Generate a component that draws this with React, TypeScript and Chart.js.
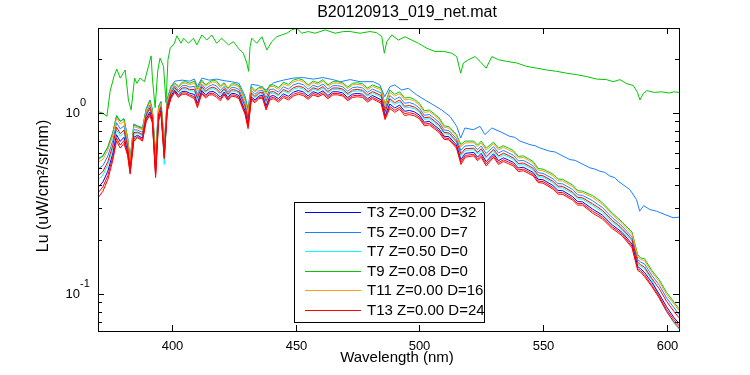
import React, { useEffect, useRef } from "react";
import { Chart, registerables } from "chart.js";

Chart.register(...registerables);

// ---------- DATA ----------
const chartTitle = "B20120913_019_net.mat";
const xAxisTitle = "Wavelength (nm)";
const yAxisTitle = "Lu (uW/cm\u00B2/sr/nm)";

const xTicks = [400, 450, 500, 550, 600];
const yMajorTicks = [0.1, 1];
const yMajorExponents = ["-1", "0"];
const yMinorTicks = [0.07, 0.08, 0.09, 0.2, 0.3, 0.4, 0.5, 0.6, 0.7, 0.8, 0.9, 2];

const wavelengths = [
  370, 372, 374, 376, 377.5, 379, 380.5, 382, 383, 384.5,
  386, 388, 389.5, 391, 392, 393.3, 394.5, 395.5, 396.8, 398,
  399.5, 401, 404, 407, 409, 410.2, 412, 415, 418, 421,
  424, 427, 429.5, 430.7, 432, 435, 438, 441, 445, 449,
  453, 457, 461, 465, 469, 473, 477, 481, 484.5, 486.1,
  488, 492, 496, 500, 504, 508, 512, 515, 516.8, 518.5,
  522, 525, 527, 530, 534, 538, 542, 546, 550, 554,
  558, 562, 566, 570, 574, 578, 582, 586, 588.3, 589.5,
  591, 594, 597, 600, 603, 605,
];
// extra wavelengths read in between (small absorption lines)
const detailNm = [
  402.5, 405.5, 413.5, 416.5, 419.5, 422.5, 425.5, 433.5, 436.5, 439.5,
  443, 447, 451, 455, 459, 463, 467, 471, 475, 479,
  490, 494, 498, 502, 506, 510, 523.5, 532, 536, 540,
  544, 548, 556, 564, 572, 580,
];

const t9Green = [
  0.56, 0.58, 0.65, 0.78, 0.97, 0.90, 0.93, 0.72, 0.55, 0.86,
  0.84, 0.82, 1.05, 1.17, 1.04, 0.57, 1.08, 1.15, 0.66, 1.18,
  1.38, 1.47, 1.48, 1.46, 1.50, 1.36, 1.52, 1.48, 1.50, 1.47,
  1.45, 1.42, 1.20, 1.02, 1.40, 1.38, 1.30, 1.43, 1.48, 1.52,
  1.52, 1.50, 1.53, 1.49, 1.47, 1.46, 1.45, 1.43, 1.37, 1.12,
  1.34, 1.31, 1.22, 1.13, 1.04, 0.94, 0.84, 0.76, 0.67, 0.70,
  0.70, 0.70, 0.64, 0.69, 0.66, 0.62, 0.58, 0.54, 0.49, 0.46,
  0.43, 0.40, 0.37, 0.35, 0.32, 0.28, 0.25, 0.22, 0.165, 0.158,
  0.157, 0.135, 0.12, 0.102, 0.09, 0.083,
];
const t9GreenDetail = [
  1.40, 1.49, 1.43, 1.52, 1.41, 1.37, 1.45, 1.33, 1.40, 1.43,
  1.38, 1.44, 1.55, 1.43, 1.47, 1.43, 1.49, 1.39, 1.47, 1.37,
  1.27, 1.21, 1.19, 1.03, 0.99, 0.85, 0.665, 0.64, 0.64, 0.576,
  0.56, 0.494, 0.432, 0.373, 0.335, 0.265,
];

const t11Orange = [
  0.534, 0.555, 0.624, 0.752, 0.938, 0.869, 0.90, 0.703, 0.539, 0.841,
  0.827, 0.806, 1.032, 1.146, 1.021, 0.554, 1.058, 1.132, 0.648, 1.161,
  1.358, 1.45, 1.455, 1.434, 1.464, 1.325, 1.491, 1.454, 1.466, 1.445,
  1.425, 1.394, 1.174, 0.996, 1.374, 1.358, 1.269, 1.402, 1.449, 1.486,
  1.488, 1.471, 1.499, 1.462, 1.442, 1.431, 1.422, 1.402, 1.341, 1.096,
  1.306, 1.279, 1.191, 1.106, 1.018, 0.921, 0.824, 0.746, 0.652, 0.684,
  0.686, 0.684, 0.624, 0.676, 0.646, 0.607, 0.568, 0.529, 0.48, 0.45,
  0.421, 0.392, 0.363, 0.342, 0.313, 0.274, 0.245, 0.215, 0.161, 0.155,
  0.153, 0.132, 0.117, 0.099, 0.088, 0.081,
];
const t11OrangeDetail = [
  1.378, 1.464, 1.404, 1.489, 1.381, 1.347, 1.424, 1.307, 1.377, 1.40,
  1.352, 1.409, 1.516, 1.401, 1.441, 1.402, 1.462, 1.364, 1.441, 1.344,
  1.239, 1.181, 1.163, 1.008, 0.97, 0.834, 0.651, 0.626, 0.626, 0.564,
  0.549, 0.484, 0.423, 0.365, 0.327, 0.26,
];

const t5Azure = [
  0.49, 0.513, 0.58, 0.706, 0.884, 0.817, 0.85, 0.675, 0.521, 0.809,
  0.805, 0.782, 1.002, 1.106, 0.989, 0.528, 1.022, 1.102, 0.628, 1.129,
  1.322, 1.416, 1.413, 1.39, 1.404, 1.267, 1.443, 1.41, 1.41, 1.403,
  1.383, 1.35, 1.13, 0.956, 1.33, 1.322, 1.217, 1.356, 1.397, 1.43,
  1.434, 1.423, 1.447, 1.416, 1.396, 1.383, 1.376, 1.356, 1.293, 1.056,
  1.25, 1.227, 1.143, 1.066, 0.982, 0.889, 0.798, 0.722, 0.622, 0.658,
  0.662, 0.658, 0.598, 0.652, 0.622, 0.585, 0.548, 0.511, 0.464, 0.434,
  0.406, 0.378, 0.351, 0.328, 0.301, 0.264, 0.237, 0.207, 0.155, 0.15,
  0.147, 0.127, 0.112, 0.095, 0.084, 0.077,
];
const t5AzureDetail = [
  1.342, 1.42, 1.36, 1.437, 1.333, 1.308, 1.38, 1.269, 1.339, 1.35,
  1.306, 1.357, 1.46, 1.353, 1.393, 1.356, 1.416, 1.32, 1.393, 1.30,
  1.187, 1.133, 1.118, 0.972, 0.936, 0.807, 0.627, 0.602, 0.603, 0.544,
  0.53, 0.468, 0.408, 0.353, 0.314, 0.251,
];

const t13Red = [
  0.45, 0.475, 0.54, 0.665, 0.835, 0.77, 0.805, 0.65, 0.505, 0.78,
  0.785, 0.76, 0.975, 1.07, 0.96, 0.505, 0.99, 1.075, 0.61, 1.10,
  1.29, 1.385, 1.375, 1.35, 1.35, 1.215, 1.40, 1.37, 1.36, 1.365,
  1.345, 1.31, 1.09, 0.92, 1.29, 1.29, 1.17, 1.315, 1.35, 1.38,
  1.385, 1.38, 1.40, 1.375, 1.355, 1.34, 1.335, 1.315, 1.25, 1.02,
  1.20, 1.18, 1.10, 1.03, 0.95, 0.86, 0.775, 0.70, 0.595, 0.635,
  0.64, 0.635, 0.575, 0.63, 0.60, 0.565, 0.53, 0.495, 0.45, 0.42,
  0.393, 0.365, 0.34, 0.315, 0.29, 0.255, 0.23, 0.20, 0.15, 0.145,
  0.141, 0.122, 0.107, 0.091, 0.08, 0.074,
];
const t13RedDetail = [
  1.31, 1.38, 1.32, 1.39, 1.29, 1.273, 1.34, 1.235, 1.305, 1.305,
  1.265, 1.31, 1.41, 1.31, 1.35, 1.315, 1.375, 1.28, 1.35, 1.26,
  1.14, 1.09, 1.078, 0.94, 0.905, 0.783, 0.605, 0.58, 0.583, 0.526,
  0.513, 0.454, 0.395, 0.342, 0.303, 0.243,
];

const t7Cyan = [
  0.428, 0.454, 0.518, 0.642, 0.808, 0.744, 0.78, 0.636, 0.496, 0.764,
  0.774, 0.748, 0.96, 1.05, 0.944, 0.492, 0.972, 1.06, 0.52, 1.084,
  1.272, 1.368, 1.354, 1.328, 1.32, 1.186, 1.376, 1.348, 1.332, 1.344,
  1.324, 1.288, 1.068, 0.90, 1.268, 1.272, 1.144, 1.292, 1.324, 1.352,
  1.358, 1.356, 1.374, 1.352, 1.332, 1.316, 1.312, 1.292, 1.226, 1.0,
  1.172, 1.154, 1.076, 1.01, 0.932, 0.844, 0.762, 0.688, 0.58, 0.622,
  0.628, 0.622, 0.562, 0.618, 0.588, 0.554, 0.52, 0.486, 0.442, 0.412,
  0.385, 0.358, 0.334, 0.308, 0.284, 0.25, 0.226, 0.196, 0.147, 0.142,
  0.138, 0.12, 0.097, 0.08, 0.069, 0.064,
];
const t7CyanDetail = [
  1.292, 1.358, 1.298, 1.364, 1.266, 1.253, 1.318, 1.216, 1.286, 1.28,
  1.242, 1.284, 1.382, 1.286, 1.326, 1.292, 1.352, 1.258, 1.326, 1.238,
  1.114, 1.066, 1.055, 0.922, 0.888, 0.769, 0.593, 0.568, 0.571, 0.515,
  0.503, 0.445, 0.387, 0.335, 0.296, 0.238,
];

const t3Blue = [
  0.388, 0.416, 0.478, 0.60, 0.759, 0.697, 0.735, 0.611, 0.48, 0.735,
  0.754, 0.726, 0.933, 1.014, 0.915, 0.469, 0.94, 1.033, 0.582, 1.055,
  1.24, 1.337, 1.316, 1.288, 1.266, 1.134, 1.333, 1.308, 1.282, 1.306,
  1.286, 1.248, 1.028, 0.864, 1.228, 1.24, 1.097, 1.251, 1.277, 1.302,
  1.309, 1.313, 1.327, 1.311, 1.291, 1.273, 1.271, 1.251, 1.183, 0.964,
  1.122, 1.107, 1.033, 0.974, 0.90, 0.815, 0.739, 0.666, 0.553, 0.599,
  0.606, 0.599, 0.539, 0.596, 0.566, 0.534, 0.502, 0.47, 0.428, 0.398,
  0.372, 0.345, 0.323, 0.295, 0.273, 0.241, 0.219, 0.189, 0.142, 0.138,
  0.132, 0.116, 0.10, 0.085, 0.074, 0.069,
];
const t3BlueDetail = [
  1.26, 1.318, 1.258, 1.317, 1.223, 1.218, 1.278, 1.182, 1.252, 1.235,
  1.201, 1.237, 1.332, 1.243, 1.283, 1.251, 1.311, 1.218, 1.283, 1.198,
  1.067, 1.023, 1.015, 0.89, 0.857, 0.745, 0.571, 0.546, 0.55, 0.497,
  0.486, 0.431, 0.374, 0.324, 0.284, 0.23,
];

const t15Red = [
  0.362, 0.391, 0.452, 0.573, 0.727, 0.666, 0.705, 0.594, 0.469, 0.716,
  0.741, 0.712, 0.915, 0.99, 0.896, 0.453, 0.918, 1.015, 0.57, 1.036,
  1.218, 1.317, 1.291, 1.262, 1.23, 1.099, 1.304, 1.282, 1.248, 1.281,
  1.261, 1.222, 1.002, 0.84, 1.202, 1.218, 1.066, 1.223, 1.246, 1.268,
  1.277, 1.284, 1.296, 1.283, 1.263, 1.244, 1.243, 1.223, 1.154, 0.94,
  1.088, 1.076, 1.004, 0.95, 0.878, 0.796, 0.723, 0.652, 0.535, 0.583,
  0.592, 0.583, 0.523, 0.582, 0.552, 0.521, 0.49, 0.459, 0.418, 0.388,
  0.363, 0.337, 0.316, 0.287, 0.266, 0.235, 0.214, 0.184, 0.138, 0.135,
  0.128, 0.112, 0.097, 0.082, 0.072, 0.067,
];
const t15RedDetail = [
  1.238, 1.292, 1.232, 1.286, 1.194, 1.195, 1.252, 1.159, 1.229, 1.205,
  1.173, 1.206, 1.298, 1.214, 1.254, 1.223, 1.283, 1.192, 1.254, 1.172,
  1.036, 0.994, 0.988, 0.868, 0.837, 0.729, 0.557, 0.532, 0.537, 0.485,
  0.475, 0.421, 0.365, 0.316, 0.277, 0.225,
];

const t17Red = [
  0.34, 0.37, 0.43, 0.55, 0.70, 0.64, 0.68, 0.58, 0.46, 0.70,
  0.73, 0.70, 0.90, 0.97, 0.88, 0.44, 0.90, 1.00, 0.56, 1.02,
  1.20, 1.30, 1.27, 1.24, 1.20, 1.07, 1.28, 1.26, 1.22, 1.26,
  1.24, 1.20, 0.98, 0.82, 1.18, 1.20, 1.04, 1.20, 1.22, 1.24,
  1.25, 1.26, 1.27, 1.26, 1.24, 1.22, 1.22, 1.20, 1.13, 0.92,
  1.06, 1.05, 0.98, 0.93, 0.86, 0.78, 0.71, 0.64, 0.52, 0.57,
  0.58, 0.57, 0.51, 0.57, 0.54, 0.51, 0.48, 0.45, 0.41, 0.38,
  0.355, 0.33, 0.31, 0.28, 0.26, 0.23, 0.21, 0.18, 0.135, 0.132,
  0.125, 0.11, 0.095, 0.08, 0.07, 0.065,
];
const t17RedDetail = [
  1.22, 1.27, 1.21, 1.26, 1.17, 1.175, 1.23, 1.14, 1.21, 1.18,
  1.15, 1.18, 1.27, 1.19, 1.23, 1.20, 1.26, 1.17, 1.23, 1.15,
  1.01, 0.97, 0.965, 0.85, 0.82, 0.715, 0.545, 0.52, 0.525, 0.475,
  0.465, 0.413, 0.357, 0.31, 0.27, 0.22,
];

// high green spectrum
const highGreenNm = [
  370, 371.8, 373.6, 374.9, 376.5, 377.6, 379, 381, 382.3, 383.4,
  384.8, 385.7, 387, 388.8, 390.4, 391.5, 392, 393.1, 394.2, 395.1,
  396.5, 397.5, 398.3, 399.2, 400.9, 401.9, 403.6, 404.6, 406.6, 408.6,
  410, 412, 414, 416, 418, 420, 422.8, 424.8, 426.8, 428.8,
  430.2, 430.9, 431.5, 432.2, 434.2, 436.3, 438.3, 440.3, 442.3, 444.3,
  446.4, 448.4, 450.4, 452.4, 455.1, 457.8, 461.9, 465.9, 469.3, 472,
  476, 480, 482.7, 484.8, 485.8, 486.8, 488.8, 491.5, 494.2, 496.9,
  499.6, 503, 506.3, 509.7, 513.1, 515.1, 516.7, 517.8, 519.8, 522.5,
  524.5, 527, 529.3, 532, 535.3, 539.4, 543.4, 547.5, 551.5, 555.5,
  559.6, 563.6, 567.7, 571.7, 575.7, 578.4, 581.1, 584, 586.5, 588.2,
  589.2, 590.5, 592, 595, 598, 601, 603, 605,
];
const highGreenLu = [
  1.02, 1.0, 0.96, 1.32, 1.6, 1.75, 1.56, 1.73, 1.18, 1.04,
  1.56, 1.46, 1.56, 1.49, 1.81, 2.07, 1.56, 1.07, 1.73, 2.01,
  1.81, 1.14, 1.97, 2.28, 2.43, 2.67, 2.43, 2.59, 2.43, 2.59,
  2.38, 2.7, 2.53, 2.7, 2.43, 2.59, 2.38, 2.48, 2.28, 2.14,
  1.89, 1.70, 2.33, 2.59, 2.43, 2.64, 2.23, 2.48, 2.64, 2.7,
  2.76, 2.88, 2.94, 2.76, 2.82, 2.76, 2.88, 2.76, 2.82, 2.82,
  2.76, 2.82, 2.78, 2.64, 2.14, 2.48, 2.70, 2.53, 2.64, 2.53,
  2.43, 2.28, 2.19, 2.19, 2.14, 2.05, 1.66, 1.89, 1.97, 2.05,
  1.93, 1.77, 2.05, 1.97, 1.93, 1.89, 1.81, 1.77, 1.73, 1.70,
  1.66, 1.63, 1.59, 1.54, 1.53, 1.49, 1.53, 1.45, 1.42, 1.30,
  1.18, 1.28, 1.33, 1.30, 1.31, 1.29, 1.31, 1.30,
];

// high azure spectrum
const highAzureNm = [
  370, 372, 374, 376, 377.5, 379, 380.5, 382, 383, 384.5,
  386, 388, 389.5, 391, 392, 393.3, 394.5, 395.5, 396.8, 398,
  399.5, 401, 404, 407, 409, 410.2, 412, 415, 418, 421,
  424, 427, 429.5, 430.7, 432, 435, 438, 441, 445, 449,
  453, 457, 461, 465, 468, 472, 476, 481.4, 484, 486,
  488.1, 490.1, 492.8, 495.5, 498.9, 502.3, 505.6, 509, 512.4, 515.1,
  516.7, 518.4, 521.8, 524.5, 526.5, 529.3, 532.6, 536.6, 538.5, 540.7,
  544.7, 546.8, 548.8, 552.8, 554.8, 556.9, 560.9, 563, 565, 569,
  571, 573, 575, 577.1, 579, 580.4, 585.1, 587.8, 589.1, 590.7,
  593.2, 595.9, 599.3, 602.6, 605,
];
const highAzureLu = [
  0.55, 0.58, 0.65, 0.78, 0.96, 0.90, 0.93, 0.73, 0.56, 0.87,
  0.85, 0.83, 1.06, 1.18, 1.05, 0.58, 1.09, 1.16, 0.67, 1.20,
  1.40, 1.50, 1.52, 1.50, 1.54, 1.40, 1.56, 1.52, 1.54, 1.51,
  1.49, 1.46, 1.24, 1.05, 1.44, 1.42, 1.34, 1.47, 1.52, 1.56,
  1.57, 1.54, 1.57, 1.53, 1.49, 1.53, 1.49, 1.49, 1.43, 1.23,
  1.40, 1.43, 1.34, 1.37, 1.26, 1.18, 1.11, 1.04, 0.958, 0.844,
  0.728, 0.827, 0.809, 0.844, 0.76, 0.827, 0.79, 0.743, 0.735, 0.70,
  0.669, 0.66, 0.641, 0.615, 0.61, 0.589, 0.553, 0.548, 0.53, 0.498,
  0.49, 0.477, 0.47, 0.448, 0.44, 0.42, 0.378, 0.333, 0.287, 0.308,
  0.293, 0.287, 0.275, 0.264, 0.266,
];

const legendLabels = [
  "T3 Z=0.00 D=32",
  "T5 Z=0.00 D=7",
  "T7 Z=0.50 D=0",
  "T9 Z=0.08 D=0",
  "T11 Z=0.00 D=16",
  "T13 Z=0.00 D=24",
];

// ---------- STYLE ----------
const BLUE = "#0000ff";
const AZURE = "#1a80ff";
const CYAN = "#00ffff";
const GREEN = "#00c800";
const ORANGE = "#ff9e1a";
const RED = "#ff0000";
const FONT = '"Liberation Sans", Arial, Helvetica, sans-serif';

const toPts = (xs: number[], ys: number[]) =>
  xs.map((x, i) => ({ x, y: ys[i] })).sort((a, b) => a.x - b.x);

const overlayPlugin = {
  id: "matlabOverlay",
  afterDatasetsDraw(chart: any) {
    const { ctx, chartArea: ca, scales } = chart;
    const xs = scales.x;
    const ys = scales.y;
    ctx.save();

    // legend box
    const lx = ca.left + 196;
    const ly = ca.top + 174;
    const lw = 190;
    const lh = 120;
    ctx.fillStyle = "#ffffff";
    ctx.fillRect(lx, ly, lw, lh);
    ctx.strokeStyle = "#000000";
    ctx.lineWidth = 1;
    ctx.strokeRect(lx + 0.5, ly + 0.5, lw, lh);
    ctx.font = `15px ${FONT}`;
    ctx.textBaseline = "middle";
    ctx.textAlign = "left";
    legendLabels.forEach((lab, i) => {
      const ds = chart.data.datasets.find((d: any) => d.label === lab);
      const y = Math.round(ly + 10 + i * 19.5) + 0.5;
      ctx.strokeStyle = ds ? ds.borderColor : "#000";
      ctx.beginPath();
      ctx.moveTo(lx + 11, y);
      ctx.lineTo(lx + 67, y);
      ctx.stroke();
      ctx.fillStyle = "#000";
      ctx.fillText(lab, lx + 73, y);
    });

    // axes box
    ctx.strokeStyle = "#000";
    ctx.lineWidth = 1;
    ctx.strokeRect(ca.left + 0.5, ca.top + 0.5, ca.right - ca.left, ca.bottom - ca.top);

    // x ticks
    ctx.font = `13px ${FONT}`;
    ctx.fillStyle = "#000";
    ctx.textAlign = "center";
    ctx.textBaseline = "middle";
    xTicks.forEach((v) => {
      const px = Math.round(xs.getPixelForValue(v)) + 0.5;
      ctx.beginPath();
      ctx.moveTo(px, ca.bottom);
      ctx.lineTo(px, ca.bottom - 6);
      ctx.moveTo(px, ca.top);
      ctx.lineTo(px, ca.top + 6);
      ctx.stroke();
      ctx.fillText(String(v), px, ca.bottom + 15);
    });

    // y ticks
    const yTick = (v: number, len: number) => {
      const py = Math.round(ys.getPixelForValue(v)) + 0.5;
      ctx.beginPath();
      ctx.moveTo(ca.left, py);
      ctx.lineTo(ca.left + len, py);
      ctx.moveTo(ca.right, py);
      ctx.lineTo(ca.right - len, py);
      ctx.stroke();
      return py;
    };
    yMinorTicks.forEach((v) => yTick(v, 4));
    yMajorTicks.forEach((v, i) => {
      const py = yTick(v, 6);
      ctx.font = `13px ${FONT}`;
      ctx.textAlign = "right";
      ctx.textBaseline = "middle";
      ctx.fillText("10", ca.left - 18, py);
      ctx.font = `11px ${FONT}`;
      ctx.textAlign = "left";
      ctx.fillText(yMajorExponents[i], ca.left - 18, py - 11);
    });

    // titles
    ctx.fillStyle = "#000";
    ctx.textAlign = "center";
    ctx.textBaseline = "middle";
    ctx.font = `16px ${FONT}`;
    ctx.fillText(chartTitle, 407, 13);
    ctx.font = `15px ${FONT}`;
    ctx.fillText(xAxisTitle, 397, 358);
    ctx.font = `16px ${FONT}`;
    ctx.translate(44, 186);
    ctx.rotate(-Math.PI / 2);
    ctx.fillText(yAxisTitle, 0, 0);
    ctx.restore();
  },
};

export default function App() {
  const canvasRef = useRef<HTMLCanvasElement | null>(null);

  useEffect(() => {
    const canvas = canvasRef.current;
    if (!canvas) return;
    const line = (label: string, xsArr: number[], ysArr: number[], color: string, order: number) => ({
      label,
      data: toPts(xsArr, ysArr),
      borderColor: color,
      backgroundColor: color,
      borderWidth: 1,
      pointRadius: 0,
      tension: 0,
      fill: false,
      order,
    });
    const grid = wavelengths.concat(detailNm);
    const chart = new Chart(canvas, {
      type: "line",
      data: {
        datasets: [
          line("T17", grid, t17Red.concat(t17RedDetail), RED, 0),
          line("T15", grid, t15Red.concat(t15RedDetail), RED, 0),
          line(legendLabels[5], grid, t13Red.concat(t13RedDetail), RED, 0),
          line(legendLabels[4], grid, t11Orange.concat(t11OrangeDetail), ORANGE, 1),
          line(legendLabels[0], grid, t3Blue.concat(t3BlueDetail), BLUE, 2),
          line(legendLabels[2], grid, t7Cyan.concat(t7CyanDetail), CYAN, 3),
          line(legendLabels[1], grid, t5Azure.concat(t5AzureDetail), AZURE, 4),
          line(legendLabels[3], grid, t9Green.concat(t9GreenDetail), GREEN, 5),
          line("high azure", highAzureNm, highAzureLu, AZURE, 6),
          line("high green", highGreenNm, highGreenLu, GREEN, 7),
        ],
      },
      options: {
        responsive: false,
        animation: false,
        devicePixelRatio: 1,
        events: [],
        layout: { padding: { left: 98, right: 71, top: 28, bottom: 44 } },
        scales: {
          x: { type: "linear", min: 370, max: 605, display: false },
          y: { type: "logarithmic", min: 0.0625, max: 2.95, display: false },
        },
        plugins: {
          legend: { display: false },
          title: { display: false },
          tooltip: { enabled: false },
        },
      },
      plugins: [overlayPlugin],
    } as any);
    return () => chart.destroy();
  }, []);

  return (
    <div style={{ position: "absolute", left: 0, top: 0, width: 750, height: 375, background: "#fff" }}>
      <canvas ref={canvasRef} width={750} height={375} style={{ width: 750, height: 375 }} />
    </div>
  );
}
